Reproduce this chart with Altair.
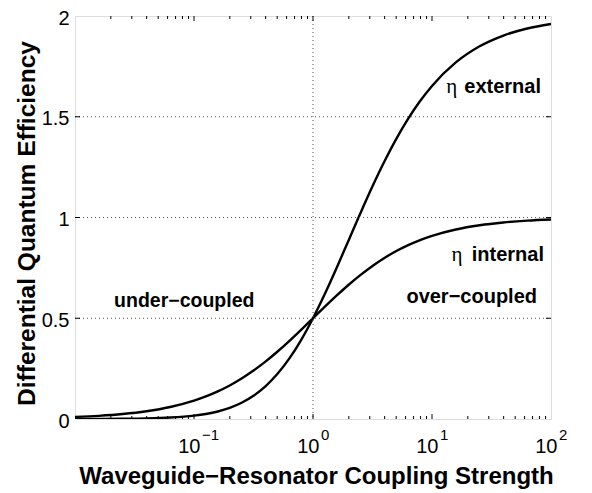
import altair as alt
import pandas as pd

# ---- data ----
coupling = [0.01, 0.01585, 0.02512, 0.03981, 0.0631, 0.1, 0.1259, 0.1585, 0.1995,
            0.2512, 0.3162, 0.3981, 0.5012, 0.631, 0.7943, 1.0, 1.259, 1.585, 1.995,
            2.512, 3.162, 3.981, 5.012, 6.31, 7.943, 10.0, 15.85, 25.12, 39.81, 63.1, 100.0]
eta_internal = [0.0099, 0.0156, 0.0245, 0.0383, 0.0594, 0.0909, 0.1118, 0.1368, 0.1663,
                0.2008, 0.2402, 0.2847, 0.3338, 0.3869, 0.4427, 0.5, 0.5573, 0.6131, 0.6662,
                0.7153, 0.7598, 0.7992, 0.8337, 0.8632, 0.8882, 0.9091, 0.9406, 0.9617, 0.9755, 0.9844, 0.9901]
eta_external = [0.0002, 0.0005, 0.0012, 0.0029, 0.0071, 0.0165, 0.025, 0.0374, 0.0553,
                0.0806, 0.1154, 0.1621, 0.2229, 0.2994, 0.3919, 0.5, 0.6212, 0.7518, 0.8876,
                1.0233, 1.1546, 1.2775, 1.3901, 1.4902, 1.5778, 1.6529, 1.7695, 1.8497, 1.9032, 1.9381, 1.9606]

x_tick_values = [0.1, 1, 10, 100]
x_tick_exponents = ["\u22121", "0", "1", "2"]
x_major_ticks = [0.1, 1, 10]
x_minor_ticks = [0.02, 0.03, 0.04, 0.05, 0.06, 0.07, 0.08, 0.09,
                 0.2, 0.3, 0.4, 0.5, 0.6, 0.7, 0.8, 0.9,
                 2, 3, 4, 5, 6, 7, 8, 9,
                 20, 30, 40, 50, 60, 70, 80, 90]
y_tick_values = [0, 0.5, 1, 1.5, 2]
y_inner_ticks = [0.5, 1, 1.5]
grid_y = [0.5, 1, 1.5]
grid_x = [1]

label_words = ["external", "internal", "over\u2212coupled"]
label_x = [82.4, 87.3, 76.3]
label_y = [1.650, 0.813, 0.603]
eta_x = [13.2, 14.6]
eta_y = [1.650, 0.813]
under_words = ["under\u2212coupled"]
under_x = [0.0213]
under_y = [0.584]

W, H = 476, 403
FONT = "Liberation Sans"

xs = alt.Scale(type="log", domain=[0.01, 100], nice=False)
ys = alt.Scale(domain=[0, 2], nice=False, zero=False)

n = len(coupling)
curves = pd.DataFrame({
    "coupling": coupling + coupling,
    "eta": eta_internal + eta_external,
    "curve": ["internal"] * n + ["external"] * n,
})

x_axis = alt.Axis(
    values=x_tick_values,
    labelExpr="'10'",
    labelAlign="right", labelOffset=6,
    ticks=False, domain=False, grid=False,
    labelFont=FONT, labelFontSize=20, labelPadding=17, labelColor="black",
    labelFlush=False, labelOverlap=False,
    title="Waveguide\u2212Resonator Coupling Strength",
    titleFont=FONT, titleFontSize=24, titleFontWeight="bold", titleColor="black",
    titleX=241, titleY=64, titleBaseline="alphabetic", titleAlign="center",
)
y_axis = alt.Axis(
    values=y_tick_values, format="~g",
    ticks=False, domain=False, grid=False,
    labelFont=FONT, labelFontSize=20, labelPadding=6, labelColor="black",
    labelOffset=2, labelFlush=False, labelOverlap=False,
    title="Differential Quantum Efficiency",
    titleFont=FONT, titleFontSize=24.5, titleFontWeight="bold", titleColor="black",
    titleX=-41, titleY=207, titleBaseline="alphabetic", titleAlign="center", titleAngle=-90,
)

def X(field):
    return alt.X(field, type="quantitative", scale=xs, axis=x_axis)

def Y(field):
    return alt.Y(field, type="quantitative", scale=ys, axis=y_axis)

lines = alt.Chart(curves).mark_line(color="black", strokeWidth=2.4, clip=True, interpolate="monotone").encode(
    x=X("coupling"), y=Y("eta"), detail="curve:N",
)

dot = dict(color="#555555", strokeWidth=1, strokeDash=[1, 3])
hgrid = alt.Chart(pd.DataFrame({"v": grid_y})).mark_rule(**dot).encode(
    y=Y("v"), x=alt.value(0), x2=alt.value(W))
vgrid = alt.Chart(pd.DataFrame({"v": grid_x})).mark_rule(**dot).encode(
    x=X("v"), y=alt.value(0), y2=alt.value(H))

def xticks(vals, y0, y1):
    return alt.Chart(pd.DataFrame({"v": vals})).mark_rule(color="black", strokeWidth=1).encode(
        x=X("v"), y=alt.value(y0), y2=alt.value(y1))

def yticks(vals, x0, x1):
    return alt.Chart(pd.DataFrame({"v": vals})).mark_rule(color="black", strokeWidth=1).encode(
        y=Y("v"), x=alt.value(x0), x2=alt.value(x1))

tick_layers = [
    xticks(x_major_ticks, H, H - 5), xticks(x_minor_ticks, H, H - 3),
    xticks(x_major_ticks, 0, 5), xticks(x_minor_ticks, 0, 3),
    yticks(y_inner_ticks, 0, 5), yticks(y_inner_ticks, W, W - 5),
]

exponents = alt.Chart(pd.DataFrame({"v": x_tick_values, "t": x_tick_exponents})).mark_text(
    align="left", baseline="alphabetic", font=FONT, fontSize=15, color="black", dx=8
).encode(x=X("v"), y=alt.value(H + 21), text="t:N")

words = alt.Chart(pd.DataFrame({"x": label_x, "y": label_y, "t": label_words})).mark_text(
    align="right", baseline="middle", font=FONT, fontWeight="bold", fontSize=20, color="black"
).encode(x=X("x"), y=Y("y"), text="t:N")

etas = alt.Chart(pd.DataFrame({"x": eta_x, "y": eta_y, "t": ["\u03b7", "\u03b7"]})).mark_text(
    align="left", baseline="middle", font="Liberation Serif", fontWeight="normal", fontSize=21, color="black"
).encode(x=X("x"), y=Y("y"), text="t:N")

under = alt.Chart(pd.DataFrame({"x": under_x, "y": under_y, "t": under_words})).mark_text(
    align="left", baseline="middle", font=FONT, fontWeight="bold", fontSize=19.5, color="black"
).encode(x=X("x"), y=Y("y"), text="t:N")

chart = alt.layer(
    lines, hgrid, vgrid, *tick_layers, exponents, words, etas, under
).properties(
    width=W, height=H,
    autosize=alt.AutoSizeParams(type="none"),
    padding={"left": 67, "top": 8, "right": 25, "bottom": 70},
).configure_view(
    stroke="black", strokeWidth=1
).configure(background="white")

chart.save("out.html", embed_options={"renderer": "svg", "actions": False})
